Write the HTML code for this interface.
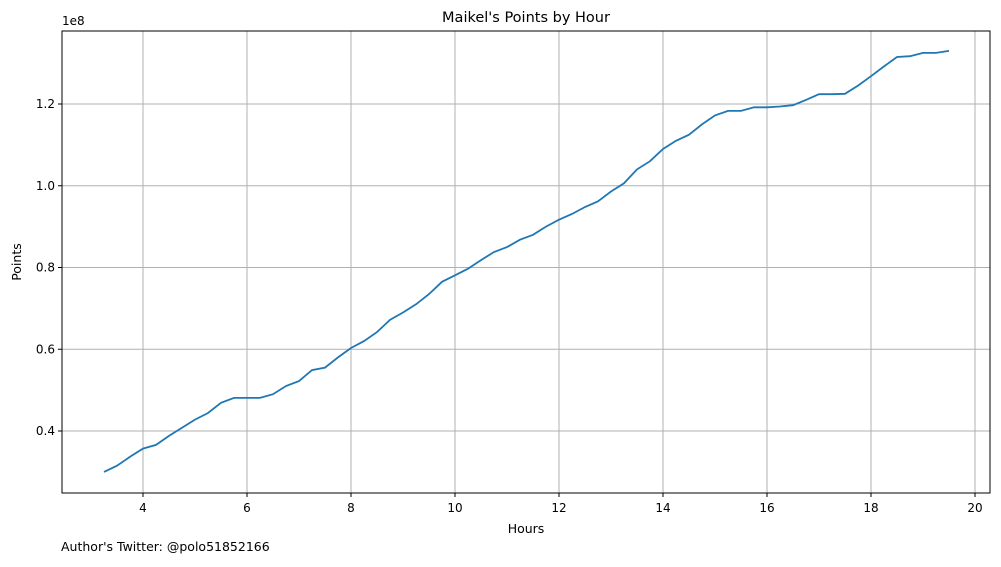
<!DOCTYPE html>
<html><head><meta charset="utf-8"><style>
body{margin:0;background:#fff;font-family:"Liberation Sans","DejaVu Sans",sans-serif;}
svg text{font-family:"DejaVu Sans","Liberation Sans",sans-serif;}
</style></head><body>
<svg id="chart" width="1001" height="562" viewBox="0 0 1001 562" xmlns="http://www.w3.org/2000/svg">
<rect width="1001" height="562" fill="#fff"/>
<g id="grid"></g>
<g id="ticks"></g>
<path id="line" fill="none" stroke="#1f77b4" stroke-width="1.8"/>
<rect x="62" y="31" width="928" height="462" fill="none" stroke="#000" stroke-width="1"/>
<text x="526" y="22" font-size="14.5" text-anchor="middle">Maikel's Points by Hour</text>
<text x="526" y="533" font-size="12.5" text-anchor="middle">Hours</text>
<text x="21" y="262" font-size="12.5" text-anchor="middle" transform="rotate(-90 21 262)">Points</text>
<text x="62" y="25" font-size="12">1e8</text>
<text x="61" y="551" font-size="12.5">Author's Twitter: @polo51852166</text>
</svg>
<script>
const hours=[3.25,3.5,3.75,4,4.25,4.5,4.75,5,5.25,5.5,5.75,6,6.25,6.5,6.75,7,7.25,7.5,7.75,8,8.25,8.5,8.75,9,9.25,9.5,9.75,10,10.25,10.5,10.75,11,11.25,11.5,11.75,12,12.25,12.5,12.75,13,13.25,13.5,13.75,14,14.25,14.5,14.75,15,15.25,15.5,15.75,16,16.25,16.5,16.75,17,17.25,17.5,17.75,18,18.25,18.5,18.75,19,19.25,19.5];
const points=[0.30,0.315,0.337,0.357,0.366,0.388,0.408,0.428,0.444,0.469,0.481,0.481,0.481,0.49,0.51,0.522,0.549,0.555,0.58,0.603,0.62,0.642,0.672,0.69,0.71,0.735,0.765,0.781,0.797,0.818,0.838,0.85,0.868,0.88,0.9,0.917,0.931,0.948,0.962,0.986,1.006,1.04,1.06,1.09,1.11,1.125,1.15,1.172,1.183,1.183,1.192,1.192,1.194,1.197,1.21,1.224,1.224,1.225,1.245,1.268,1.292,1.315,1.317,1.325,1.325,1.33];
const xTicks=[4,6,8,10,12,14,16,18,20];
const yTicks=[0.4,0.6,0.8,1.0,1.2];
const yTickLabels=["0.4","0.6","0.8","1.0","1.2"];
const NS="http://www.w3.org/2000/svg";
const X=v=>143+(v-4)*52;
const Y=v=>431-(v-0.4)*408.75;
const grid=document.getElementById('grid'),ticks=document.getElementById('ticks');
function mk(t,a,p){const e=document.createElementNS(NS,t);for(const k in a)e.setAttribute(k,a[k]);p.appendChild(e);return e;}
xTicks.forEach(v=>{const x=X(v);
 const g=mk('line',{x1:x,x2:x,y1:31,y2:493,stroke:'#b0b0b0','stroke-width':1},grid);
 
 
 mk('line',{x1:x,x2:x,y1:493,y2:497,stroke:'#000'},ticks);
 const t=mk('text',{x:x,y:512,'font-size':12,'text-anchor':'middle'},ticks);t.textContent=v;
 
 
});
yTicks.forEach((v,i)=>{const y=Y(v);
 const g=mk('line',{x1:62,x2:990,y1:y,y2:y,stroke:'#b0b0b0','stroke-width':1},grid);
 
 
 mk('line',{x1:58,x2:62,y1:y,y2:y,stroke:'#000'},ticks);
 const t=mk('text',{x:55,y:y+4,'font-size':12,'text-anchor':'end'},ticks);t.textContent=yTickLabels[i];
 
 
});
document.getElementById('line').setAttribute('d',hours.map((h,i)=>(i?'L':'M')+X(h).toFixed(1)+','+Y(points[i]).toFixed(1)).join(''));
</script>
</body></html>
